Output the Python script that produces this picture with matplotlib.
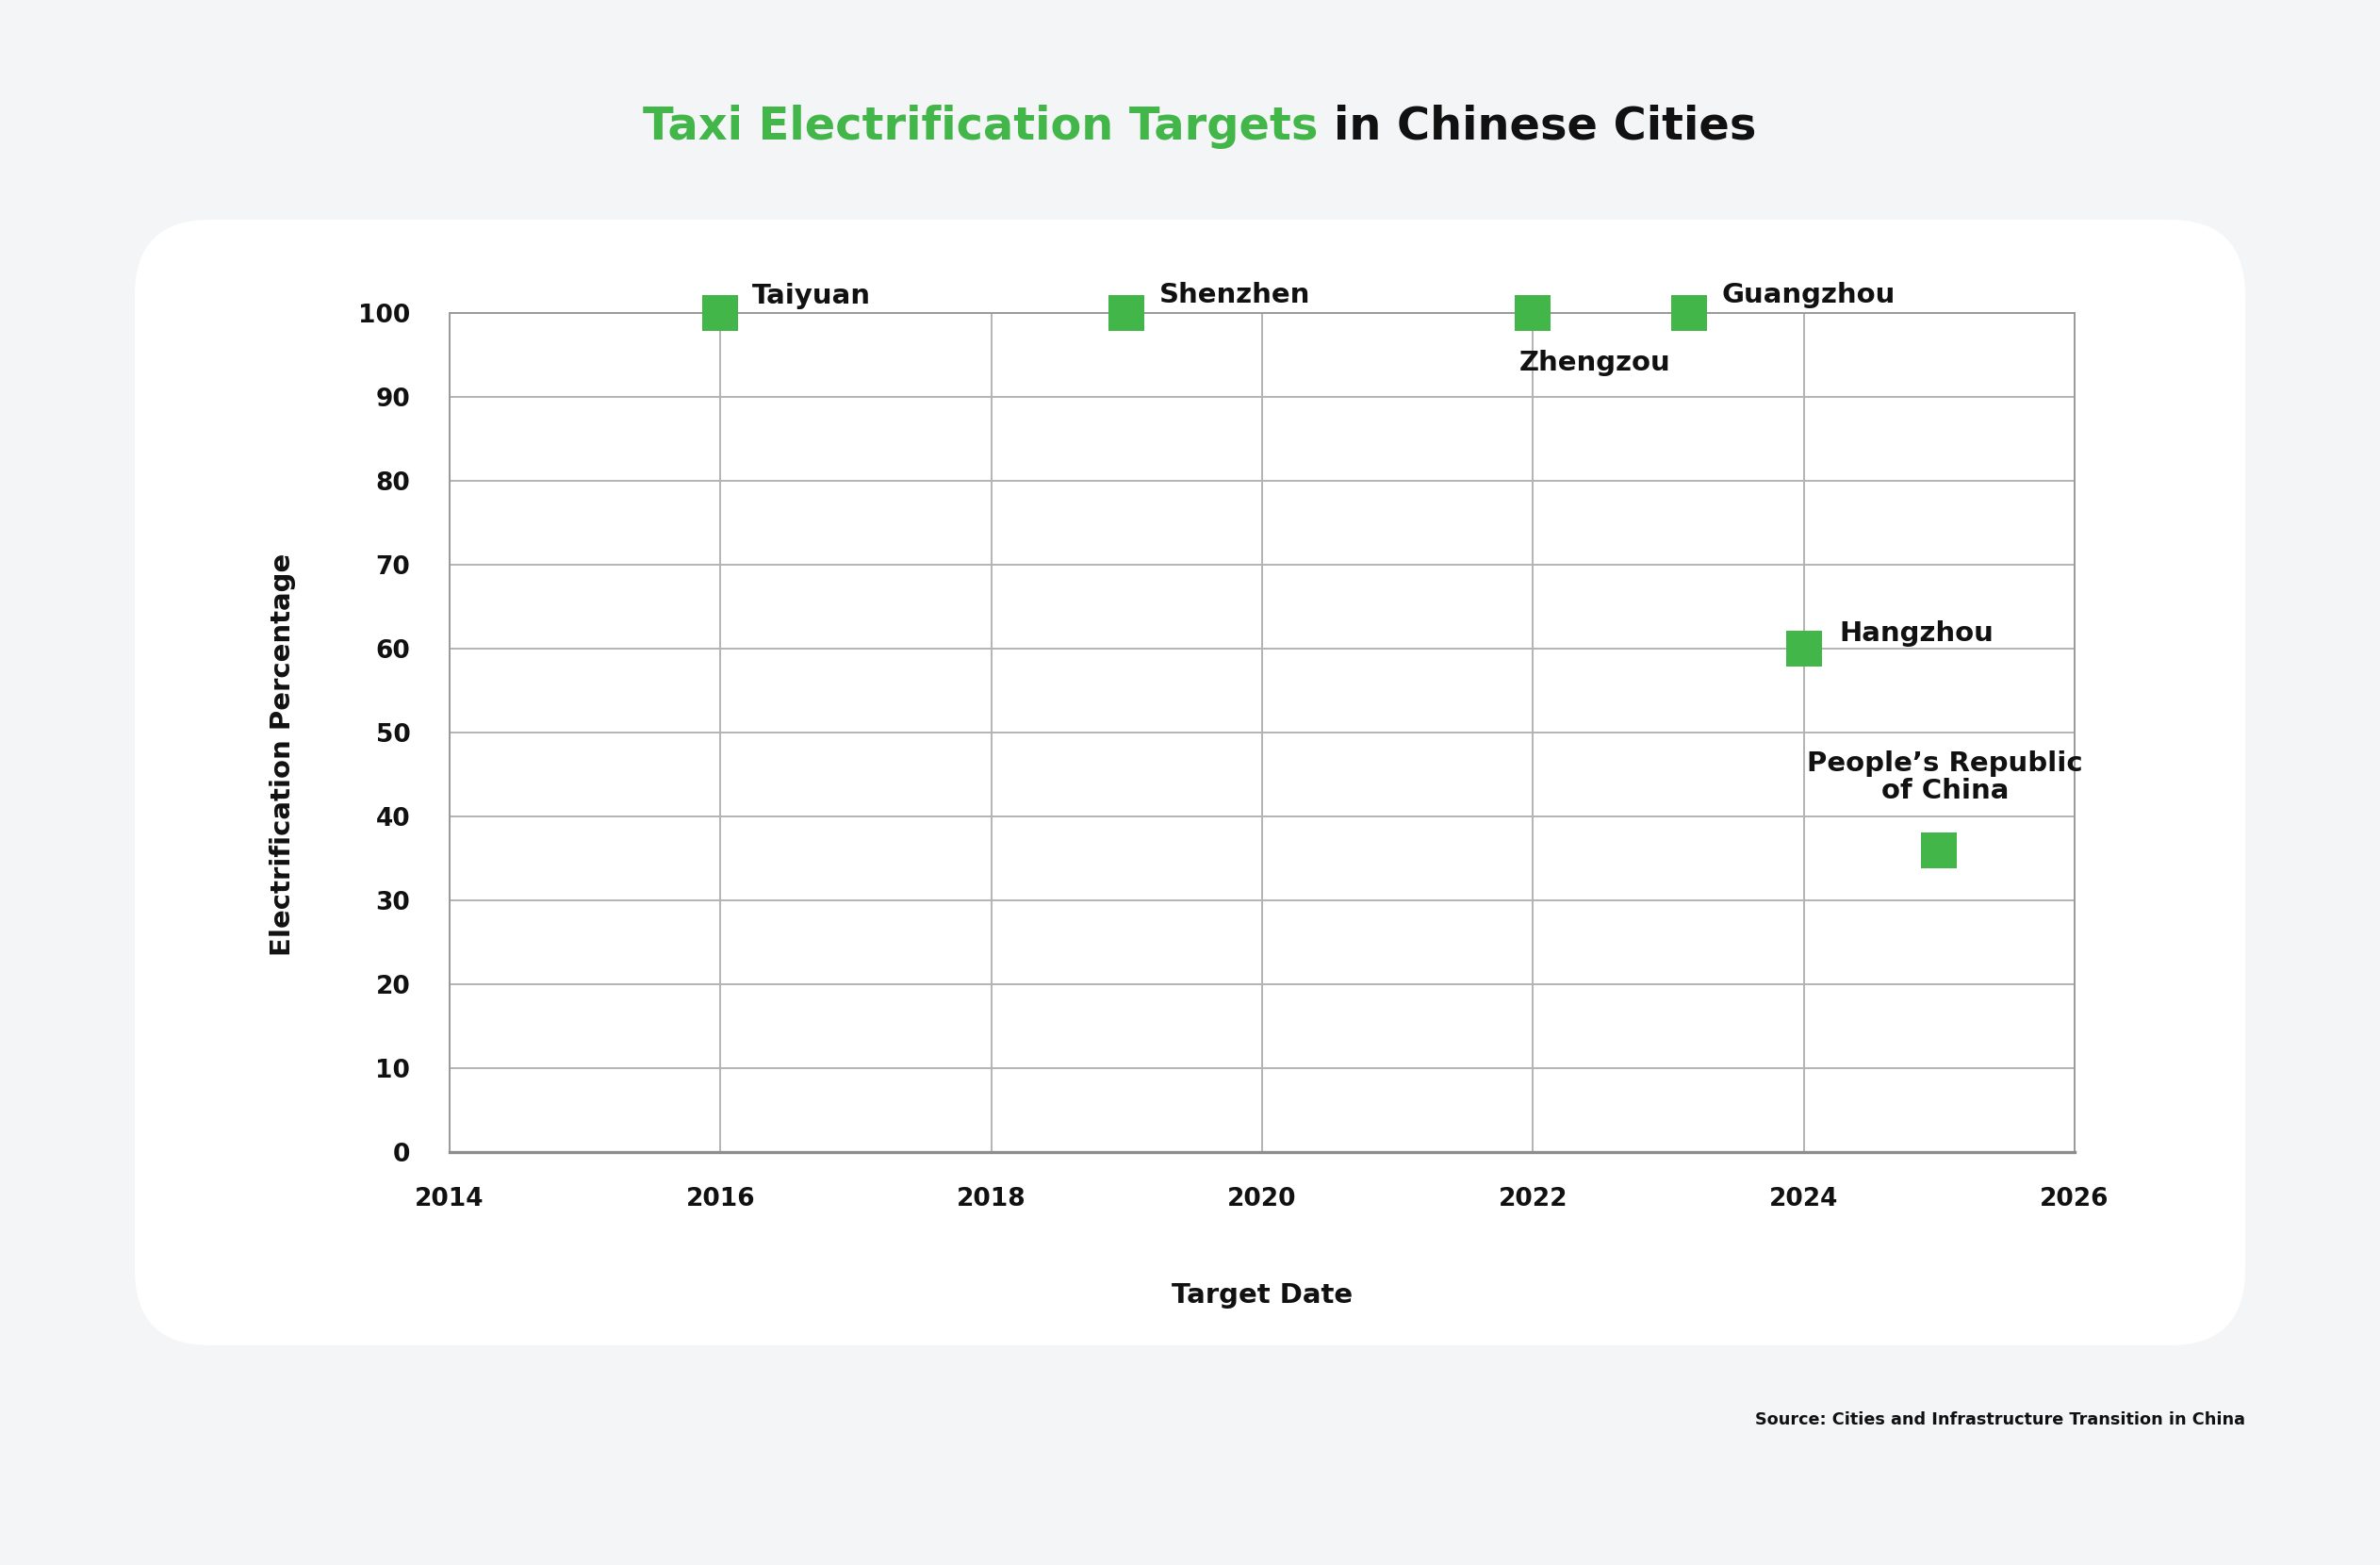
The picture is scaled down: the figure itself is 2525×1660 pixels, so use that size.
import matplotlib.pyplot as plt
from matplotlib.patches import FancyBboxPatch
from matplotlib.transforms import IdentityTransform

cities = ["Taiyuan", "Shenzhen", "Zhengzou", "Guangzhou", "Hangzhou",
          "People\u2019s Republic\nof China"]
target_year = [2016, 2019, 2022, 2023.15, 2024, 2025]
electrification = [100, 100, 100, 100, 60, 36]

x_ticks = [2014, 2016, 2018, 2020, 2022, 2024, 2026]
y_ticks = [0, 10, 20, 30, 40, 50, 60, 70, 80, 90, 100]

GREEN = "#43b649"
BG = "#f4f5f7"
FONT = "DejaVu Sans"

plt.rcParams["font.family"] = FONT
plt.rcParams["font.weight"] = "bold"

fig = plt.figure(figsize=(25.25, 16.6), dpi=100, facecolor=BG)

# white rounded card behind the plot
card = FancyBboxPatch((143 + 80, 1660 - 1427 + 80), 2382 - 143 - 160, 1427 - 233 - 160,
                      boxstyle="round,pad=80", transform=IdentityTransform(),
                      facecolor="white", edgecolor="none", zorder=-5)
fig.patches.append(card)

ax = fig.add_axes([0.1889, 0.2639, 0.6828, 0.5361], zorder=2)
ax.set_facecolor("white")

ax.scatter(target_year, electrification, marker="s", s=27 ** 2, color=GREEN,
           linewidths=0, zorder=5, clip_on=False)

# label offsets in pixels (dx, dy, horizontal alignment)
offsets = [(34, 18, "left"), (35, 19, "left"), (-15, -53, "left"),
           (35, 19, "left"), (38, 16, "left"), (6, 77, "center")]
for name, x, y, (dx, dy, ha) in zip(cities, target_year, electrification, offsets):
    ax.annotate(name, (x, y), xytext=(dx, dy), textcoords="offset pixels",
                ha=ha, va="center", fontsize=21, fontweight="bold",
                color="#111111", linespacing=1.05, zorder=6)

ax.set_xlim(2014, 2026)
ax.set_ylim(0, 100)
ax.set_xticks(x_ticks)
ax.set_yticks(y_ticks)
ax.tick_params(length=0, labelsize=19, colors="#111111")
ax.tick_params(axis="x", pad=27)
ax.tick_params(axis="y", pad=30)
for lab in ax.get_xticklabels() + ax.get_yticklabels():
    lab.set_fontweight("bold")

ax.grid(True, color="#b3b3b3", linewidth=1.4)
ax.set_axisbelow(True)
for side in ["top", "right", "left"]:
    ax.spines[side].set_color("#9a9a9a")
    ax.spines[side].set_linewidth(1.4)
ax.spines["bottom"].set_color("#8c8c8c")
ax.spines["bottom"].set_linewidth(2.4)

ax.set_xlabel("Target Date", fontsize=21, fontweight="bold", color="#111111", labelpad=54)
ax.set_ylabel("Electrification Percentage", fontsize=21, fontweight="bold",
              color="#111111", va="center")
ax.yaxis.set_label_coords(-0.1027, 0.474)

# two-colour title
renderer = fig.canvas.get_renderer()
t1 = fig.text(0, 0, "Taxi Electrification Targets ", fontsize=34.5, fontweight="bold",
              color=GREEN, va="center")
t2 = fig.text(0, 0, "in Chinese Cities", fontsize=34.5, fontweight="bold",
              color="#111111", va="center")
w1 = t1.get_window_extent(renderer).width
w2 = t2.get_window_extent(renderer).width
x0 = (2525 - (w1 + w2)) / 2 + 10
ty = (1660 - 134) / 1660
t1.set_position((x0 / 2525, ty))
t2.set_position(((x0 + w1) / 2525, ty))

fig.text(2382 / 2525, (1660 - 1506) / 1660, "Source: Cities and Infrastructure Transition in China",
         ha="right", va="center", fontsize=12.7, fontweight="bold", color="#111111")

fig.savefig("out.png", dpi=100, facecolor=BG)
